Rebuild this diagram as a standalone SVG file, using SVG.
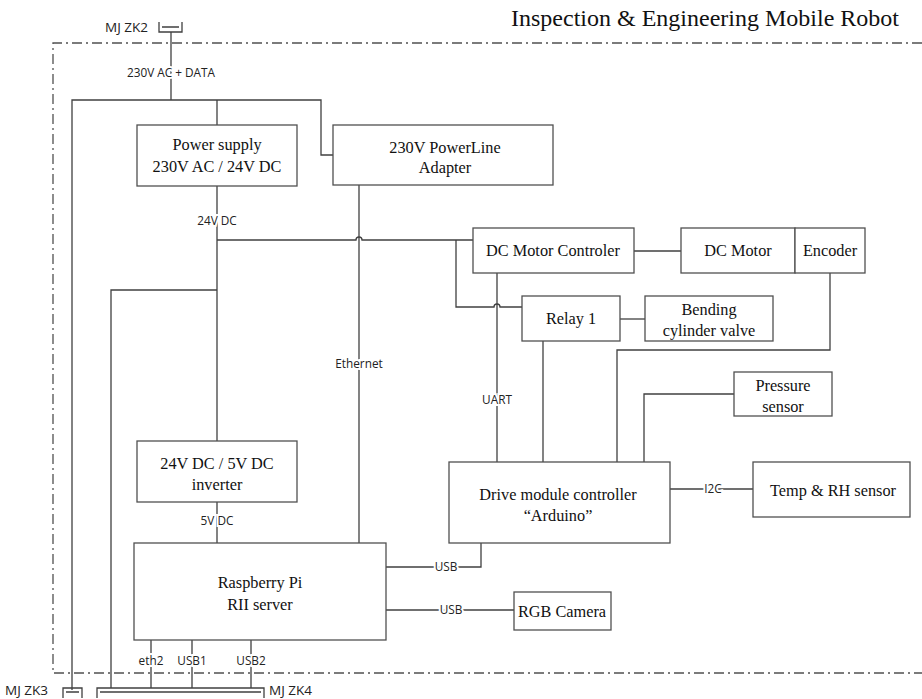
<svg xmlns="http://www.w3.org/2000/svg" width="922" height="699" viewBox="0 0 922 699">
<style>
.box{fill:#fff;stroke:#505050;stroke-width:1.3}
.ln{fill:none;stroke:#404040;stroke-width:1.3}
.st{font-family:"Liberation Serif","Times New Roman",serif;font-size:16.3px;fill:#111;text-anchor:middle}
.lb{font-family:"Open Sans","Liberation Sans",sans-serif;font-size:11.8px;fill:#222;text-anchor:middle;stroke:#fff;stroke-width:4;paint-order:stroke}
.cn{font-family:"Open Sans","Liberation Sans",sans-serif;font-size:13.5px;fill:#222}
.bd{fill:none;stroke:#505050;stroke-width:1.3;stroke-dasharray:10,4,2,4}
</style>
<rect width="922" height="699" fill="#fff"/>
<text x="705" y="26" style="font-family:'Liberation Serif','Times New Roman',serif;font-size:24px;fill:#111;text-anchor:middle">Inspection &amp; Engineering Mobile Robot</text>
<path class="bd" d="M922,43 H53 V673 H922"/>

<g id="connectors">
<path class="ln" d="M171,32 V100"/>
<path class="ln" d="M72,690 V100 H321 V155 H333"/>
<path class="ln" d="M217,100 V125"/>
<path class="ln" d="M217,186 V441"/>
<path class="ln" d="M217,240 H356 a3,3 0 0 1 6,0 H473"/>
<path class="ln" d="M111,688 V290 H217"/>
<path class="ln" d="M359,185 V543"/>
<path class="ln" d="M456,240 V307 H494 a3,3 0 0 1 6,0 H522"/>
<path class="ln" d="M497,273 V462"/>
<path class="ln" d="M543,341 V462"/>
<path class="ln" d="M620,319 H645"/>
<path class="ln" d="M634,251 H681"/>
<path class="ln" d="M830,273 V350 H617 V462"/>
<path class="ln" d="M734,394 H644 V462"/>
<path class="ln" d="M670,489 H753"/>
<path class="ln" d="M481,543 V567 H386"/>
<path class="ln" d="M386,610 H514"/>
<path class="ln" d="M217,502 V543"/>
<path class="ln" d="M151,640 V688 M192,640 V688 M251,640 V688"/>
<text class="lb" x="171" y="77">230V AC + DATA</text>
<text class="lb" x="217" y="225">24V DC</text>
<text class="lb" x="359" y="368">Ethernet</text>
<text class="lb" x="497" y="404">UART</text>
<text class="lb" x="713" y="493">I2C</text>
<text class="lb" x="446" y="571">USB</text>
<text class="lb" x="451" y="614">USB</text>
<text class="lb" x="217" y="525">5V DC</text>
<text class="lb" x="151" y="665">eth2</text>
<text class="lb" x="192" y="665">USB1</text>
<text class="lb" x="251" y="665">USB2</text>
</g>

<g id="zk2">
<path class="ln" d="M159,22 V32 H182 V22 M162,27 H179"/>
<text class="cn" x="105" y="32">MJ ZK2</text>
</g>
<g id="zk3">
<path class="ln" d="M63,698 V688 H82 V698 M66,692 H79"/>
<text class="cn" x="5" y="695">MJ ZK3</text>
</g>
<g id="zk4">
<path class="ln" d="M97,698 V688 H264 V698 M100,692 H261"/>
<text class="cn" x="269" y="695">MJ ZK4</text>
</g>

<g id="power">
<rect class="box" x="137" y="125" width="160" height="61"/>
<text class="st" x="217" y="150">Power supply</text>
<text class="st" x="217" y="172">230V AC / 24V DC</text>
</g>
<g id="powerline">
<rect class="box" x="333" y="125" width="220" height="60"/>
<text class="st" x="445" y="153">230V PowerLine</text>
<text class="st" x="445" y="173">Adapter</text>
</g>
<g id="dcctrl">
<rect class="box" x="473" y="228" width="161" height="45"/>
<text class="st" x="553" y="256">DC Motor Controler</text>
</g>
<g id="dcmotor">
<rect class="box" x="681" y="228" width="114" height="45"/>
<text class="st" x="738" y="256">DC Motor</text>
</g>
<g id="encoder">
<rect class="box" x="795" y="228" width="70" height="45"/>
<text class="st" x="830" y="256">Encoder</text>
</g>
<g id="relay">
<rect class="box" x="522" y="296" width="98" height="45"/>
<text class="st" x="571" y="324">Relay 1</text>
</g>
<g id="valve">
<rect class="box" x="645" y="296" width="128" height="45"/>
<text class="st" x="709" y="315">Bending</text>
<text class="st" x="709" y="336">cylinder valve</text>
</g>
<g id="pressure">
<rect class="box" x="734" y="372" width="98" height="44"/>
<text class="st" x="783" y="391">Pressure</text>
<text class="st" x="783" y="412">sensor</text>
</g>
<g id="drive">
<rect class="box" x="449" y="462" width="221" height="81"/>
<text class="st" x="558" y="500">Drive module controller</text>
<text class="st" x="558" y="521">“Arduino”</text>
</g>
<g id="temp">
<rect class="box" x="753" y="462" width="157" height="55"/>
<text class="st" x="833" y="496">Temp &amp; RH sensor</text>
</g>
<g id="inverter">
<rect class="box" x="137" y="441" width="160" height="61"/>
<text class="st" x="217" y="469">24V DC / 5V DC</text>
<text class="st" x="217" y="490">inverter</text>
</g>
<g id="rpi">
<rect class="box" x="134" y="543" width="252" height="97"/>
<text class="st" x="260" y="588">Raspberry Pi</text>
<text class="st" x="260" y="610">RII server</text>
</g>
<g id="camera">
<rect class="box" x="514" y="592" width="97" height="38"/>
<text class="st" x="562" y="617">RGB Camera</text>
</g>
</svg>
